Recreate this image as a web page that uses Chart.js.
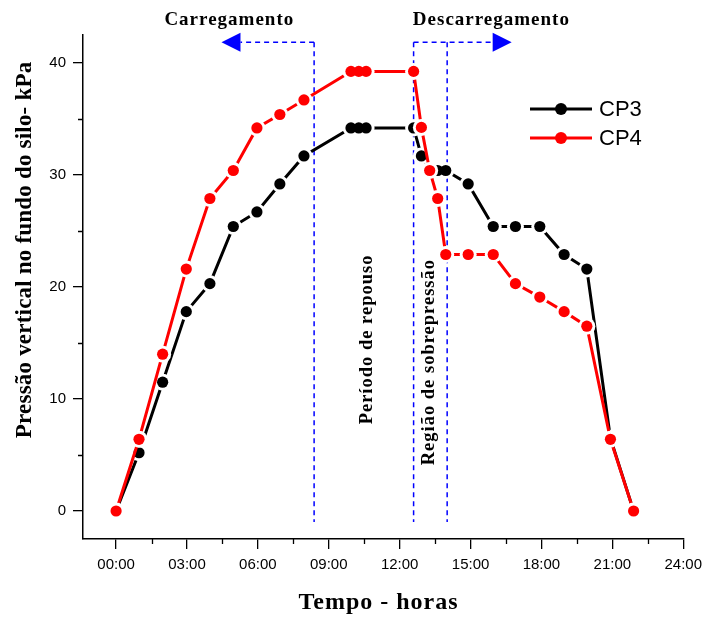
<!DOCTYPE html>
<html>
<head>
<meta charset="utf-8">
<script src="https://cdn.jsdelivr.net/npm/chart.js@4"></script>
<style>
  html, body { margin: 0; padding: 0; background: #fff; }
  #wrap { width: 709px; height: 617px; position: relative; }
</style>
</head>
<body>
<div id="wrap"><canvas id="c" width="709" height="617"></canvas></div>
<script>
// Elapsed time (hours) of each reading
const hours = [0, 0.97, 1.97, 2.97, 3.97, 4.96, 5.96, 6.93, 7.95, 9.94, 10.27, 10.58,
               12.59, 12.92, 13.27, 13.61, 13.95, 14.9, 15.96, 16.9, 17.93, 18.96, 19.92, 20.92, 21.9];
// Vertical pressure at the silo floor (kPa)
const cp3 = [0, 5.2, 11.5, 17.8, 20.3, 25.4, 26.7, 29.2, 31.7, 34.2, 34.2, 34.2,
             34.2, 31.7, 30.4, 30.4, 30.4, 29.2, 25.4, 25.4, 25.4, 22.9, 21.6, 6.5, 0];
const cp4 = [0, 6.4, 14.0, 21.6, 27.9, 30.4, 34.2, 35.4, 36.7, 39.25, 39.25, 39.25,
             39.25, 34.25, 30.4, 27.9, 22.9, 22.9, 22.9, 20.3, 19.1, 17.8, 16.5, 6.4, 0];

const timeTickHours  = [0, 3, 6, 9, 12, 15, 18, 21, 24];
const timeTickLabels = ['00:00', '03:00', '06:00', '09:00', '12:00', '15:00', '18:00', '21:00', '24:00'];
const minorHours     = [1.5, 4.5, 7.5, 10.5, 13.5, 16.5, 19.5, 22.5];
const pressureTicks  = [0, 10, 20, 30, 40];
const minorPressure  = [5, 15, 25, 35];

// End of loading, end of rest, end of the overpressure zone (hours)
const phaseBoundaries = [8.38, 12.59, 14.01];
const phaseLineTop = 41.85;
const phaseLineBottom = -0.98;
const loadArrowTip = 4.46;
const unloadArrowTip = 16.74;

const serif = "'Liberation Serif', 'Times New Roman', serif";
const sans = "'Liberation Sans', Arial, sans-serif";

const points = (ys) => hours.map((h, i) => ({ x: h, y: ys[i] }));

function seriesSets(label, color, ys, baseOrder) {
  return [
    { label: label, data: points(ys), showLine: true, borderColor: color, borderWidth: 3,
      pointRadius: 0, pointHoverRadius: 0, fill: false, tension: 0, order: baseOrder + 2 },
    { label: label + ' gap', data: points(ys), showLine: false, pointRadius: 8.5,
      pointHoverRadius: 8.5, pointBackgroundColor: '#fff', pointBorderWidth: 0, order: baseOrder + 1 },
    { label: label + ' markers', data: points(ys), showLine: false, pointRadius: 5.6,
      pointHoverRadius: 5.6, pointBackgroundColor: color, pointBorderWidth: 0, order: baseOrder }
  ];
}

function drawText(ctx, text, x, y, font, spacing, rot) {
  ctx.save();
  ctx.translate(x, y);
  if (rot) ctx.rotate(rot);
  ctx.font = font;
  ctx.letterSpacing = spacing + 'px';
  ctx.textAlign = 'center';
  ctx.textBaseline = 'middle';
  ctx.fillStyle = '#000';
  ctx.fillText(text, spacing / 2, 0);
  ctx.restore();
}

const minorTicks = {
  id: 'minorTicks',
  afterDraw(chart) {
    const { ctx, scales: { x, y } } = chart;
    ctx.save();
    ctx.strokeStyle = '#000';
    ctx.lineWidth = 1.3;
    ctx.beginPath();
    minorPressure.forEach(v => {
      const py = Math.round(y.getPixelForValue(v)) + 0.5;
      ctx.moveTo(x.left - 5, py); ctx.lineTo(x.left, py);
    });
    minorHours.forEach(v => {
      const px = Math.round(x.getPixelForValue(v)) + 0.5;
      ctx.moveTo(px, y.bottom); ctx.lineTo(px, y.bottom + 5);
    });
    ctx.stroke();
    ctx.restore();
  }
};

const phases = {
  id: 'phases',
  beforeDatasetsDraw(chart) {
    const { ctx, scales: { x, y } } = chart;
    const yt = y.getPixelForValue(phaseLineTop);
    const yb = y.getPixelForValue(phaseLineBottom);
    ctx.save();
    ctx.strokeStyle = '#0000ff';
    ctx.fillStyle = '#0000ff';
    ctx.lineWidth = 1.5;
    ctx.setLineDash([5, 4]);
    ctx.beginPath();
    phaseBoundaries.forEach(h => {
      const px = x.getPixelForValue(h);
      ctx.moveTo(px, yt); ctx.lineTo(px, yb);
    });
    const head = 19;
    const lTip = x.getPixelForValue(loadArrowTip);
    const rTip = x.getPixelForValue(unloadArrowTip);
    ctx.moveTo(x.getPixelForValue(phaseBoundaries[0]), yt); ctx.lineTo(lTip + head, yt);
    ctx.moveTo(x.getPixelForValue(phaseBoundaries[1]), yt); ctx.lineTo(rTip - head, yt);
    ctx.stroke();
    ctx.setLineDash([]);
    ctx.beginPath();
    ctx.moveTo(lTip, yt); ctx.lineTo(lTip + head, yt - 9.5); ctx.lineTo(lTip + head, yt + 9.5); ctx.closePath();
    ctx.moveTo(rTip, yt); ctx.lineTo(rTip - head, yt - 9.5); ctx.lineTo(rTip - head, yt + 9.5); ctx.closePath();
    ctx.fill();
    ctx.restore();

    const bold19 = 'bold 19px ' + serif;
    const bold18 = 'bold 18.5px ' + serif;
    drawText(ctx, 'Carregamento', x.getPixelForValue(4.77), y.getPixelForValue(43.8), bold19, 1);
    drawText(ctx, 'Descarregamento', x.getPixelForValue(15.86), y.getPixelForValue(43.8), bold19, 1);
    drawText(ctx, 'Período de repouso', x.getPixelForValue(10.63), y.getPixelForValue(15.27), bold18, 1, -Math.PI / 2);
    drawText(ctx, 'Região de sobrepressão', x.getPixelForValue(13.25), y.getPixelForValue(13.25), bold18, 1, -Math.PI / 2);
  },
  afterDraw(chart) {
    const { ctx } = chart;
    // axis titles
    drawText(ctx, 'Pressão vertical no fundo do silo- kPa', 25, 250, 'bold 23px ' + serif, 0.2, -Math.PI / 2);
    drawText(ctx, 'Tempo - horas', 378, 603, 'bold 24px ' + serif, 1);
    // legend
    const items = [['CP3', '#000', 109], ['CP4', '#ff0000', 138]];
    ctx.save();
    items.forEach(([name, color, ly]) => {
      ctx.strokeStyle = color;
      ctx.fillStyle = color;
      ctx.lineWidth = 3;
      ctx.beginPath(); ctx.moveTo(530, ly); ctx.lineTo(592, ly); ctx.stroke();
      ctx.beginPath(); ctx.arc(561, ly, 6, 0, Math.PI * 2); ctx.fill();
      ctx.fillStyle = '#000';
      ctx.font = '22px ' + sans;
      ctx.textAlign = 'left';
      ctx.textBaseline = 'middle';
      ctx.fillText(name, 599, ly + 1);
    });
    ctx.restore();
  }
};

new Chart(document.getElementById('c'), {
  type: 'scatter',
  data: {
    datasets: [
      ...seriesSets('CP3', '#000000', cp3, 4),
      ...seriesSets('CP4', '#ff0000', cp4, 1)
    ]
  },
  options: {
    responsive: false,
    animation: false,
    devicePixelRatio: 1,
    layout: { padding: { top: 35, right: 24, left: 0, bottom: 0 } },
    plugins: { legend: { display: false }, tooltip: { enabled: false } },
    scales: {
      x: {
        type: 'linear',
        min: -1.4,
        max: 24,
        afterFit: (s) => { s.height = 78; },
        afterBuildTicks: (s) => { s.ticks = timeTickHours.map(v => ({ value: v })); },
        ticks: {
          padding: 7,
          color: '#000',
          font: { family: sans, size: 15 },
          maxRotation: 0,
          callback: (v) => timeTickLabels[timeTickHours.indexOf(v)] ?? ''
        },
        grid: { display: true, drawOnChartArea: false, drawTicks: true, tickLength: 10, color: '#000', lineWidth: 1.3 },
        border: { display: true, color: '#000', width: 1.5 }
      },
      y: {
        type: 'linear',
        min: -2.5,
        max: 42.5,
        afterFit: (s) => { s.width = 83; },
        afterBuildTicks: (s) => { s.ticks = pressureTicks.map(v => ({ value: v })); },
        ticks: {
          padding: 7,
          color: '#000',
          font: { family: sans, size: 15 },
          callback: (v) => String(v)
        },
        grid: { display: true, drawOnChartArea: false, drawTicks: true, tickLength: 10, color: '#000', lineWidth: 1.3 },
        border: { display: true, color: '#000', width: 1.5 }
      }
    }
  },
  plugins: [minorTicks, phases]
});
</script>
</body>
</html>
